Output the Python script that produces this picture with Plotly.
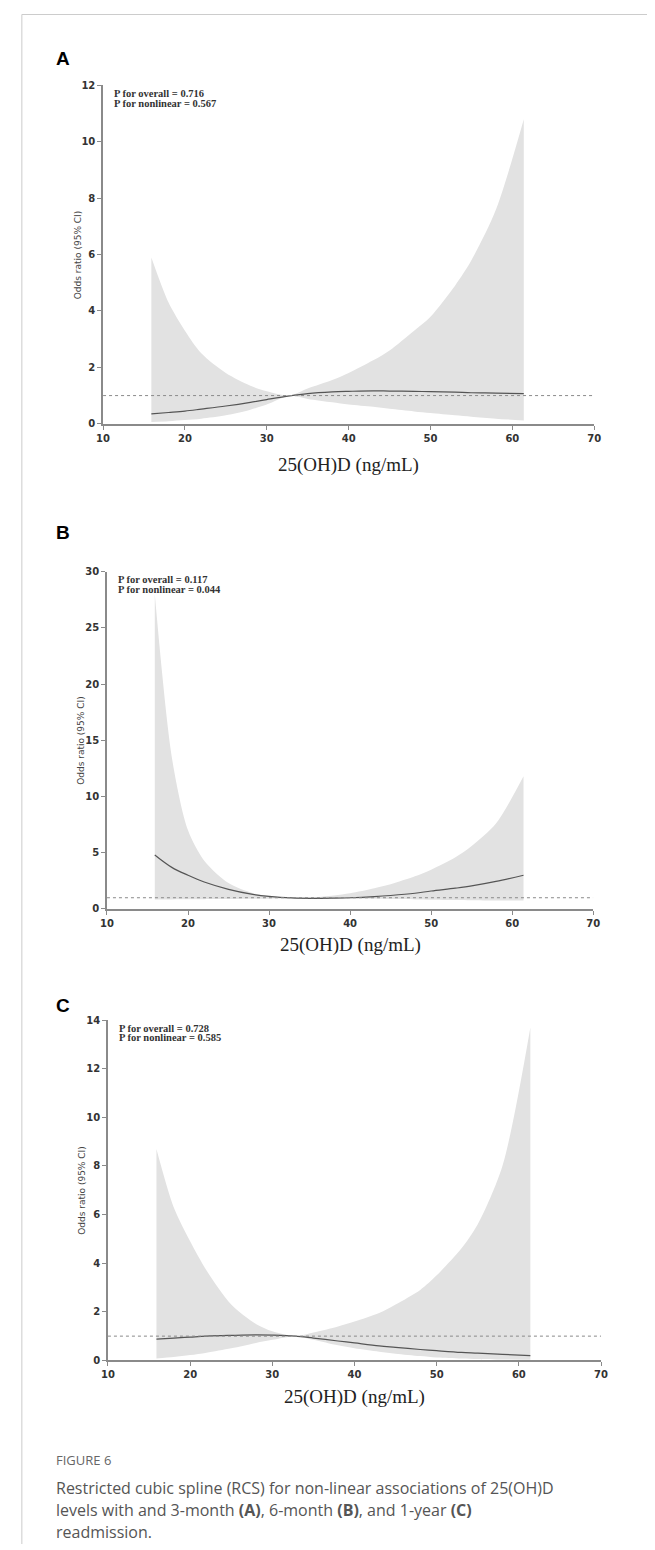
import plotly.graph_objects as go

# page body has an 8px default margin, so the figure is drawn 8px in from the window edge
OFF = 8
PAGE_W, PAGE_H = 655, 1550
W, H = PAGE_W - OFF, PAGE_H - OFF

# ---- data ----
x_vals = [15.9, 18, 20, 22, 25, 28, 30, 32.8, 35, 38, 40, 43, 45, 48, 50, 53, 55, 58, 61.4]

a_or = [0.35, 0.40, 0.45, 0.52, 0.63, 0.76, 0.86, 0.99, 1.07, 1.13, 1.15, 1.17, 1.16, 1.15, 1.14, 1.12, 1.10, 1.09, 1.07]
a_up = [5.9, 4.3, 3.3, 2.5, 1.8, 1.35, 1.15, 1.0, 1.25, 1.55, 1.8, 2.25, 2.6, 3.3, 3.8, 4.9, 5.8, 7.6, 10.8]
a_lo = [0.06, 0.09, 0.13, 0.18, 0.3, 0.5, 0.68, 0.99, 0.88, 0.76, 0.68, 0.6, 0.53, 0.44, 0.38, 0.3, 0.25, 0.18, 0.12]

b_or = [4.8, 3.7, 3.0, 2.4, 1.75, 1.3, 1.12, 0.98, 0.95, 0.97, 1.0, 1.1, 1.2, 1.4, 1.6, 1.85, 2.05, 2.45, 3.0]
b_up = [28, 13.5, 7.0, 4.3, 2.3, 1.4, 1.15, 1.02, 1.02, 1.2, 1.4, 1.85, 2.2, 2.9, 3.5, 4.6, 5.6, 7.6, 11.8]
b_lo = [0.85, 0.85, 0.86, 0.87, 0.88, 0.9, 0.92, 0.95, 0.95, 0.95, 0.93, 0.9, 0.88, 0.85, 0.83, 0.8, 0.78, 0.76, 0.75]

c_or = [0.88, 0.92, 0.96, 1.0, 1.03, 1.05, 1.04, 1.0, 0.92, 0.8, 0.72, 0.6, 0.54, 0.45, 0.4, 0.33, 0.3, 0.25, 0.2]
c_up = [8.7, 6.3, 4.9, 3.7, 2.3, 1.5, 1.2, 1.0, 1.15, 1.4, 1.6, 1.95, 2.3, 2.9, 3.5, 4.6, 5.6, 8.0, 13.7]
c_lo = [0.08, 0.14, 0.22, 0.32, 0.5, 0.72, 0.85, 1.0, 0.85, 0.62, 0.5, 0.36, 0.28, 0.18, 0.12, 0.08, 0.06, 0.04, 0.03]

panel_labels = ["A", "B", "C"]
p_overall = ["0.716", "0.117", "0.728"]
p_nonlinear = ["0.567", "0.044", "0.585"]
y_max = [12, 30, 14]
y_dtick = [2, 5, 2]
x_ticks = [10, 20, 30, 40, 50, 60, 70]

# ---- layout geometry (window pixels) ----
boxes = [  # left, right, top, bottom
    (98, 600, 80, 421),
    (102, 599, 570, 910),
    (103, 607, 1022, 1365),
]
label_y = [53, 531, 1007]
xtitle_y = [463, 946, 1402]


def px(x):
    return (x - OFF) / W


def py(y):
    return 1 - (y - OFF) / H


fig = go.Figure()
series = [(a_or, a_up, a_lo), (b_or, b_up, b_lo), (c_or, c_up, c_lo)]

annotations = []
shapes = []
lay = {}
for i, ((orv, up, lo), (l, r, t, b)) in enumerate(zip(series, boxes)):
    n = "" if i == 0 else str(i + 1)
    xa, ya = "x" + n, "y" + n
    fig.add_trace(go.Scatter(x=x_vals, y=lo, mode="lines", line=dict(width=0, shape="spline", smoothing=0.8),
                             xaxis=xa, yaxis=ya, showlegend=False, hoverinfo="skip"))
    fig.add_trace(go.Scatter(x=x_vals, y=up, mode="lines", line=dict(width=0, shape="spline", smoothing=0.8),
                             fill="tonexty", fillcolor="#e2e2e2",
                             xaxis=xa, yaxis=ya, showlegend=False, hoverinfo="skip"))
    fig.add_trace(go.Scatter(x=x_vals, y=orv, mode="lines", line=dict(width=1.2, color="#555555", shape="spline"),
                             xaxis=xa, yaxis=ya, showlegend=False))
    axis_common = dict(showgrid=False, zeroline=False, showline=True, linecolor="#8a8a8a", linewidth=1.5,
                       ticks="outside", ticklen=4, tickcolor="#8a8a8a",
                       tickfont=dict(family="DejaVu Sans", size=10, color="#333333", weight="bold"))
    lay["xaxis" + n] = dict(domain=[px(l), px(r)], range=[10, 70], tickvals=x_ticks,
                            anchor=ya, **axis_common)
    lay["yaxis" + n] = dict(domain=[py(b), py(t)], range=[0, y_max[i]], dtick=y_dtick[i],
                            anchor=xa, **axis_common)
    # reference line OR = 1
    shapes.append(dict(type="line", xref=xa, yref=ya, x0=10, x1=70, y0=1, y1=1,
                       line=dict(color="#8a8a8a", width=1, dash="dot")))
    # panel letter
    annotations.append(dict(text=panel_labels[i], x=px(48), y=py(label_y[i]), xref="paper", yref="paper",
                            xanchor="left", yanchor="middle", showarrow=False,
                            font=dict(family="Liberation Sans", size=19, color="#000000", weight="bold")))
    # p-values
    for k, txt in enumerate([f"P for overall = {p_overall[i]}", f"P for nonlinear = {p_nonlinear[i]}"]):
        annotations.append(dict(text=txt, x=px(l + 9), y=py(t + 8 + 10 * k), xref="paper", yref="paper",
                                xanchor="left", yanchor="middle", align="left", showarrow=False,
                                font=dict(family="Liberation Serif", size=10.5, color="#333333", weight="bold")))
    # y title
    annotations.append(dict(text="Odds ratio (95% CI)", x=px(l - 26), y=py((t + b) / 2), xref="paper", yref="paper",
                            textangle=-90, xanchor="center", yanchor="middle", showarrow=False,
                            font=dict(family="DejaVu Sans", size=9, color="#444444")))
    # x title
    annotations.append(dict(text="25(OH)D (ng/mL)", x=px((l + r) / 2), y=py(xtitle_y[i]), xref="paper", yref="paper",
                            xanchor="center", yanchor="middle", showarrow=False,
                            font=dict(family="Liberation Serif", size=19, color="#222222")))

# border lines of the figure frame
shapes.append(dict(type="line", xref="paper", yref="paper", x0=px(15), x1=px(15), y0=py(8.5), y1=py(1550),
                   line=dict(color="#cccccc", width=1)))
shapes.append(dict(type="line", xref="paper", yref="paper", x0=px(15), x1=1, y0=py(8.5), y1=py(8.5),
                   line=dict(color="#cccccc", width=1)))

# caption
annotations.append(dict(text="FIGURE 6", x=px(48), y=py(1465), xref="paper", yref="paper",
                        xanchor="left", yanchor="middle", showarrow=False,
                        font=dict(family="Open Sans", size=13, color="#666666")))
cap_lines = [
    "Restricted cubic spline (RCS) for non-linear associations of 25(OH)D",
    "levels with and 3-month <b>(A)</b>, 6-month <b>(B)</b>, and 1-year <b>(C)</b>",
    "readmission.",
]
for k, line in enumerate(cap_lines):
    annotations.append(dict(text=line, x=px(48), y=py(1494 + 22 * k), xref="paper", yref="paper",
                            xanchor="left", yanchor="middle", showarrow=False,
                            font=dict(family="Open Sans", size=16, color="#555555")))

fig.update_layout(width=W, height=H, margin=dict(l=0, r=0, t=0, b=0),
                  plot_bgcolor="white", paper_bgcolor="white",
                  annotations=annotations, shapes=shapes, **lay)

fig.write_html("out.html")
